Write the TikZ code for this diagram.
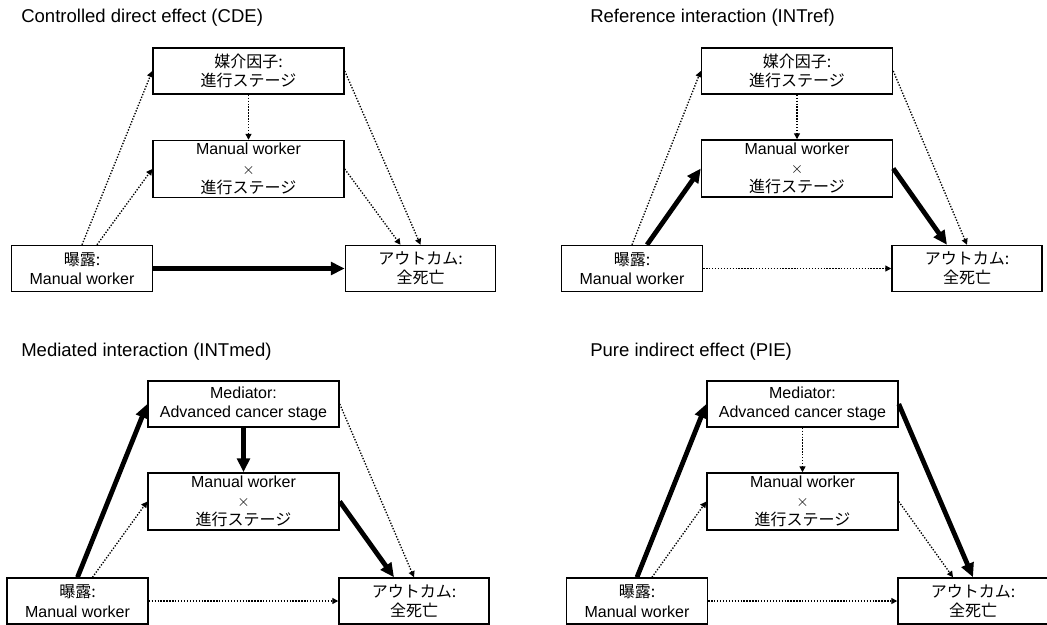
\documentclass[tikz,border=0pt]{standalone}
\usepackage{fontspec}
\setmainfont{Liberation Sans}
\newfontfamily\jp{Noto Sans CJK JP}
\usepackage{tikz}
\usetikzlibrary{arrows.meta}

\tikzset{
  box/.style={draw, line width=1.1pt, align=center, inner sep=0pt,
    font=\fontsize{12}{14.5}\selectfont},
  medbox/.style={box, minimum width=143.25pt, minimum height=34.5pt},
  intbox/.style={box, minimum width=143.25pt, minimum height=42.75pt},
  expbox/.style={box, minimum width=105.75pt, minimum height=34.5pt},
  outbox/.style={box, minimum width=112.5pt, minimum height=34.5pt},
  title/.style={anchor=west, inner sep=0pt, font=\fontsize{13.9}{16}\selectfont},
  weak/.style={-{Triangle[length=4.5pt,width=4.5pt]}, line width=1pt,
    dash pattern=on 1pt off 1.2pt},
  strong/.style={-{Triangle[length=10.5pt,width=9.5pt]}, line width=3.6pt}
}

\begin{document}
\begin{tikzpicture}[x=0.75pt,y=-0.75pt]
\useasboundingbox (0,0) rectangle (1047,625);
\node[title] (t1) at (21,18) {Controlled direct effect (CDE)};
\node[medbox] (med1) at (248.5,71) {{\jp 媒介因子:}\\{\jp 進行ステージ}};
\node[intbox] (int1) at (248.5,169) {Manual worker\\$\times$\\{\jp 進行ステージ}};
\node[expbox] (exp1) at (82,268.5) {{\jp 曝露:}\\Manual worker};
\node[outbox] (out1) at (420.5,268.5) {{\jp アウトカム:}\\{\jp 全死亡}};
\draw[weak] (exp1.north) -- (med1.west);
\draw[weak] ([xshift=11.25pt]exp1.north) -- (int1.west);
\draw[weak] (med1.south) -- (int1.north);
\draw[weak] (int1.east) -- ([xshift=-15pt]out1.north);
\draw[weak] (med1.east) -- (out1.north);
\draw[strong] (exp1.east) -- (out1.west);

\node[title] (t2) at (590,18) {Reference interaction (INTref)};
\node[medbox] (med2) at (797,71) {{\jp 媒介因子:}\\{\jp 進行ステージ}};
\node[intbox] (int2) at (797,168.5) {Manual worker\\$\times$\\{\jp 進行ステージ}};
\node[expbox] (exp2) at (632,268.5) {{\jp 曝露:}\\Manual worker};
\node[outbox] (out2) at (967,268.5) {{\jp アウトカム:}\\{\jp 全死亡}};
\draw[weak] (exp2.north) -- (med2.west);
\draw[strong] ([xshift=11.25pt]exp2.north) -- (int2.west);
\draw[weak] (med2.south) -- (int2.north);
\draw[strong] (int2.east) -- ([xshift=-15pt]out2.north);
\draw[weak] (med2.east) -- (out2.north);
\draw[weak] (exp2.east) -- (out2.west);

\node[title] (t3) at (21,352) {Mediated interaction (INTmed)};
\node[medbox] (med3) at (243.5,404) {Mediator:\\Advanced cancer stage};
\node[intbox] (int3) at (243.5,501.5) {Manual worker\\$\times$\\{\jp 進行ステージ}};
\node[expbox] (exp3) at (77.5,601) {{\jp 曝露:}\\Manual worker};
\node[outbox] (out3) at (414,601) {{\jp アウトカム:}\\{\jp 全死亡}};
\draw[strong] (exp3.north) -- (med3.west);
\draw[weak] ([xshift=11.25pt]exp3.north) -- (int3.west);
\draw[strong] (med3.south) -- (int3.north);
\draw[strong] (int3.east) -- ([xshift=-15pt]out3.north);
\draw[weak] (med3.east) -- (out3.north);
\draw[weak] (exp3.east) -- (out3.west);

\node[title] (t4) at (590,352) {Pure indirect effect (PIE)};
\node[medbox] (med4) at (802.5,404) {Mediator:\\Advanced cancer stage};
\node[intbox] (int4) at (802.5,501.5) {Manual worker\\$\times$\\{\jp 進行ステージ}};
\node[expbox] (exp4) at (637,601) {{\jp 曝露:}\\Manual worker};
\node[outbox] (out4) at (973,601) {{\jp アウトカム:}\\{\jp 全死亡}};
\draw[strong] (exp4.north) -- (med4.west);
\draw[weak] ([xshift=11.25pt]exp4.north) -- (int4.west);
\draw[weak] (med4.south) -- (int4.north);
\draw[weak] (int4.east) -- ([xshift=-15pt]out4.north);
\draw[strong] (med4.east) -- (out4.north);
\draw[weak] (exp4.east) -- (out4.west);
\end{tikzpicture}
\end{document}
